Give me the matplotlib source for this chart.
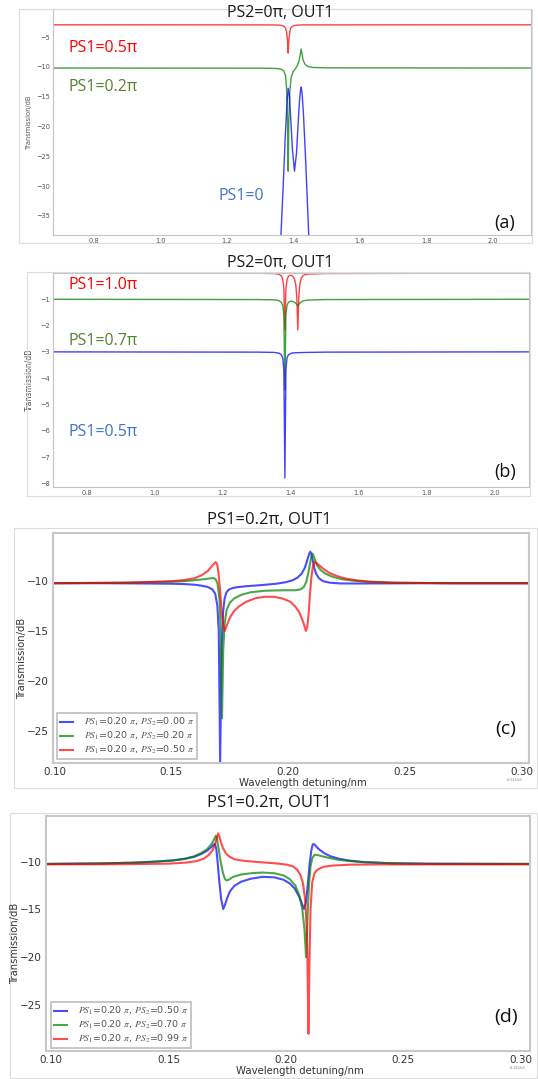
import matplotlib
matplotlib.use("Agg")
import matplotlib.pyplot as plt
from matplotlib.patches import Rectangle
from matplotlib.ticker import FormatStrFormatter

plt.rcParams["mathtext.fontset"] = "stix"

# ---------------- data ----------------
# (a) PS2 = 0, OUT1, coarse detuning axis
a_red_x = [0.68, 1.30, 1.35, 1.365, 1.372, 1.377, 1.380, 1.383, 1.385, 1.387, 1.390, 1.393, 1.398, 1.405, 1.42, 1.45, 2.12]
a_red_y = [-2.95, -2.96, -2.98, -3.05, -3.2, -3.5, -4.1, -5.5, -7.7, -5.5, -4.1, -3.5, -3.2, -3.05, -2.98, -2.96, -2.95]

a_green_x = [0.68, 1.30, 1.35, 1.365, 1.372, 1.377, 1.380, 1.383, 1.385, 1.387, 1.390, 1.394, 1.400, 1.407,
             1.413, 1.418, 1.421, 1.424, 1.427, 1.430, 1.436, 1.445, 1.46, 1.50, 2.12]
a_green_y = [-10.2, -10.22, -10.28, -10.4, -10.7, -11.5, -13.5, -19.0, -27.5, -19.0, -14.0, -11.8, -10.8, -10.3,
             -9.7, -8.9, -8.0, -7.0, -8.0, -8.9, -9.6, -9.95, -10.1, -10.17, -10.2]

a_blue_x = [0.68, 1.20, 1.30, 1.34, 1.355, 1.363, 1.370, 1.376, 1.381, 1.385, 1.389, 1.393, 1.398, 1.404,
            1.410, 1.415, 1.419, 1.422, 1.424, 1.427, 1.431, 1.437, 1.443, 1.447, 1.455, 1.48, 1.55, 1.70, 2.12]
a_blue_y = [-60, -58, -55, -50, -45, -38.5, -30, -22, -16.5, -13.6, -15, -19, -24, -27.5,
            -24.5, -19.5, -15.8, -14, -13.4, -14.5, -18, -25, -33, -38.5, -45, -52, -56, -58, -60]

# (b) PS2 = 0, OUT1, larger PS1
b_red_x = [0.70, 1.30, 1.35, 1.365, 1.372, 1.376, 1.379, 1.382, 1.385, 1.388, 1.392, 1.397, 1.401, 1.405,
           1.410, 1.414, 1.417, 1.420, 1.423, 1.426, 1.430, 1.437, 1.45, 1.50, 2.10]
b_red_y = [0.0, -0.01, -0.02, -0.05, -0.12, -0.25, -0.6, -2.17, -0.6, -0.27, -0.13, -0.09, -0.09, -0.12,
           -0.22, -0.45, -0.9, -2.17, -0.9, -0.45, -0.2, -0.08, -0.04, -0.02, 0.0]

b_green_x = [0.70, 1.30, 1.35, 1.365, 1.372, 1.376, 1.379, 1.382, 1.385, 1.388, 1.392, 1.398, 1.405, 1.412,
             1.416, 1.420, 1.424, 1.428, 1.435, 1.45, 1.50, 2.10]
b_green_y = [-1.0, -1.01, -1.02, -1.05, -1.12, -1.25, -1.6, -4.45, -1.6, -1.25, -1.12, -1.07, -1.08, -1.13,
             -1.18, -1.25, -1.18, -1.12, -1.06, -1.03, -1.01, -1.0]

b_blue_x = [0.70, 1.30, 1.35, 1.365, 1.372, 1.376, 1.379, 1.382, 1.385, 1.388, 1.392, 1.398, 1.405, 1.42, 1.45, 1.50, 2.10]
b_blue_y = [-3.0, -3.01, -3.02, -3.05, -3.12, -3.25, -3.7, -7.8, -3.7, -3.25, -3.12, -3.07, -3.04, -3.03, -3.02, -3.01, -3.0]

# (c) PS1 = 0.2 pi, PS2 = 0.00 / 0.20 / 0.50 pi
c_blue_x = [0.099, 0.12, 0.14, 0.15, 0.155, 0.160, 0.163, 0.1655, 0.1675, 0.1688, 0.1697, 0.1703, 0.1709,
            0.1715, 0.1722, 0.1728, 0.1735, 0.1745, 0.176, 0.178, 0.182, 0.188, 0.195, 0.199, 0.202, 0.204,
            0.2058, 0.2072, 0.2083, 0.2090, 0.2095, 0.2100, 0.2106, 0.2113, 0.2120, 0.2132, 0.215, 0.218,
            0.222, 0.230, 0.26, 0.304]
c_blue_y = [-10.25, -10.25, -10.28, -10.3, -10.33, -10.4, -10.5, -10.62, -10.85, -11.3, -12.5, -15.0, -28.0,
            -17.0, -13.0, -11.8, -11.2, -10.9, -10.75, -10.65, -10.55, -10.45, -10.3, -10.15, -9.95, -9.7,
            -9.3, -8.7, -7.9, -7.35, -7.1, -7.35, -8.0, -8.8, -9.3, -9.75, -10.05, -10.2,
            -10.27, -10.28, -10.25, -10.25]

c_green_x = [0.099, 0.13, 0.15, 0.155, 0.160, 0.164, 0.1665, 0.168, 0.1690, 0.1698, 0.1706, 0.1712, 0.1717,
             0.1722, 0.1728, 0.1737, 0.175, 0.177, 0.180, 0.184, 0.190, 0.198, 0.203, 0.2055, 0.2068, 0.2078,
             0.2086, 0.2094, 0.2100, 0.2104, 0.2109, 0.2116, 0.2125, 0.214, 0.216, 0.219, 0.223, 0.228,
             0.235, 0.245, 0.27, 0.304]
c_green_y = [-10.25, -10.2, -10.1, -10.05, -9.95, -9.85, -9.77, -9.73, -9.85, -10.3, -11.8, -15.5, -23.7,
             -17.0, -14.3, -12.9, -12.2, -11.75, -11.4, -11.15, -11.0, -10.95, -10.95, -10.85, -10.6, -10.1,
             -9.3, -8.3, -7.6, -7.3, -7.5, -8.0, -8.5, -8.95, -9.3, -9.6, -9.85, -10.0,
             -10.12, -10.2, -10.25, -10.25]

c_red_x = [0.099, 0.13, 0.15, 0.155, 0.160, 0.163, 0.1655, 0.1672, 0.1683, 0.1690, 0.1696, 0.1702, 0.1708,
           0.1714, 0.1721, 0.1728, 0.1737, 0.1745, 0.1755, 0.177, 0.179, 0.182, 0.186, 0.190, 0.194, 0.198,
           0.201, 0.203, 0.2047, 0.2060, 0.2070, 0.2076, 0.2082, 0.2088, 0.2094, 0.2100, 0.2106, 0.2112,
           0.2120, 0.2135, 0.215, 0.2175, 0.220, 0.2225, 0.225, 0.229, 0.234, 0.245, 0.27, 0.304]
c_red_y = [-10.25, -10.2, -10.05, -9.95, -9.75, -9.45, -9.05, -8.6, -8.3, -8.14, -8.35, -9.2, -10.8,
           -12.6, -14.2, -15.0, -14.5, -14.0, -13.5, -13.0, -12.55, -12.1, -11.75, -11.6, -11.6, -11.8,
           -12.1, -12.55, -13.1, -13.8, -14.5, -15.0, -14.6, -13.3, -11.3, -9.6, -8.6, -8.14,
           -8.2, -8.5, -8.8, -9.2, -9.45, -9.65, -9.8, -9.95, -10.08, -10.2, -10.25, -10.25]

# (d) PS1 = 0.2 pi, PS2 = 0.50 / 0.70 / 0.99 pi
d_blue_x = [0.097, 0.12, 0.135, 0.145, 0.152, 0.157, 0.161, 0.164, 0.1665, 0.1682, 0.1692, 0.1697, 0.1703,
            0.1709, 0.1716, 0.1724, 0.1733, 0.1741, 0.1750, 0.1762, 0.178, 0.181, 0.185, 0.190, 0.195, 0.199,
            0.2017, 0.2037, 0.2055, 0.2067, 0.2077, 0.2085, 0.2093, 0.2101, 0.2108, 0.2113, 0.2117, 0.2125,
            0.2140, 0.2165, 0.2190, 0.2225, 0.227, 0.233, 0.245, 0.26, 0.305]
d_blue_y = [-10.25, -10.2, -10.12, -10.0, -9.88, -9.72, -9.5, -9.2, -8.85, -8.5, -8.25, -8.16, -8.6,
            -10.0, -12.0, -13.9, -14.96, -14.5, -13.8, -13.1, -12.55, -12.1, -11.8, -11.6, -11.65, -11.9,
            -12.3, -12.8, -13.6, -14.3, -14.96, -14.3, -12.5, -10.3, -8.9, -8.3, -8.16, -8.3,
            -8.7, -9.15, -9.45, -9.7, -9.9, -10.05, -10.18, -10.23, -10.25]

d_green_x = [0.097, 0.12, 0.135, 0.145, 0.152, 0.157, 0.161, 0.164, 0.1665, 0.1685, 0.1695, 0.1701, 0.1706,
             0.1713, 0.1722, 0.1732, 0.1740, 0.1747, 0.1757, 0.1775, 0.181, 0.186, 0.190, 0.195, 0.199,
             0.2017, 0.2040, 0.2058, 0.2070, 0.2079, 0.2086, 0.2092, 0.2098, 0.2105, 0.2113, 0.2122, 0.2135,
             0.2150, 0.2180, 0.2220, 0.227, 0.233, 0.245, 0.26, 0.305]
d_green_y = [-10.25, -10.2, -10.12, -10.0, -9.88, -9.7, -9.45, -9.1, -8.7, -8.1, -7.65, -7.3, -7.6,
             -8.6, -10.0, -11.2, -11.8, -11.98, -11.9, -11.6, -11.35, -11.2, -11.15, -11.22, -11.45,
             -11.85, -12.5, -13.6, -15.0, -17.0, -20.0, -16.0, -12.5, -10.5, -9.6, -9.3, -9.32,
             -9.42, -9.6, -9.8, -9.95, -10.07, -10.18, -10.23, -10.25]

d_red_x = [0.097, 0.13, 0.15, 0.158, 0.162, 0.165, 0.1672, 0.1688, 0.1698, 0.1706, 0.1711, 0.1716, 0.1722,
           0.1732, 0.1745, 0.1760, 0.178, 0.182, 0.187, 0.192, 0.197, 0.2005, 0.203, 0.2048, 0.2062, 0.2073,
           0.2082, 0.2088, 0.2092, 0.2096, 0.2100, 0.2105, 0.2112, 0.2122, 0.2135, 0.216, 0.220, 0.227,
           0.24, 0.305]
d_red_y = [-10.3, -10.28, -10.22, -10.1, -9.95, -9.7, -9.3, -8.8, -8.2, -7.5, -7.05, -7.3, -7.9,
           -8.6, -9.15, -9.5, -9.75, -9.92, -10.03, -10.12, -10.22, -10.33, -10.5, -10.85, -11.4, -12.3,
           -14.0, -16.5, -20.5, -28.0, -21.0, -15.0, -12.2, -11.2, -10.85, -10.55, -10.42, -10.33,
           -10.3, -10.3]

legend_c = [r"$PS_1$=0.20 $\pi$, $PS_2$=0.00 $\pi$",
            r"$PS_1$=0.20 $\pi$, $PS_2$=0.20 $\pi$",
            r"$PS_1$=0.20 $\pi$, $PS_2$=0.50 $\pi$"]
legend_d = [r"$PS_1$=0.20 $\pi$, $PS_2$=0.50 $\pi$",
            r"$PS_1$=0.20 $\pi$, $PS_2$=0.70 $\pi$",
            r"$PS_1$=0.20 $\pi$, $PS_2$=0.99 $\pi$"]

# ---------------- figure ----------------
W, H = 538, 1079
fig = plt.figure(figsize=(W / 100, H / 100), dpi=100)
LABEL_FONT = ["Open Sans", "DejaVu Sans"]


def fx(px):
    return px / W


def fy(py):
    return 1 - py / H


def add_axes_px(left, top, right, bottom):
    return fig.add_axes([fx(left), fy(bottom), (right - left) / W, (bottom - top) / H])


def frame_px(left, top, right, bottom):
    fig.add_artist(Rectangle((fx(left), fy(bottom)), (right - left) / W, (bottom - top) / H,
                             transform=fig.transFigure, fill=False, ec="#dcdcdc", lw=0.8))


def ftext(px, py, s, **kw):
    fig.text(fx(px), fy(py), s, **kw)


def style_small(ax):
    for sp in ax.spines.values():
        sp.set_color("#c4c4c4")
        sp.set_linewidth(0.8)
    ax.tick_params(length=0, labelsize=4.8, colors="#555555", pad=2)


def style_large(ax):
    for sp in ax.spines.values():
        sp.set_color("#c8c8c8")
        sp.set_linewidth(1.5)
    ax.tick_params(length=0, labelsize=7.5, colors="#333333", pad=3)


# panel frames
frame_px(19, 9, 532, 243)
frame_px(27, 272, 530, 496)
frame_px(14, 528, 537, 788)
frame_px(10, 813, 537, 1078)

# ---- (a) ----
ax = add_axes_px(53, 9, 531, 235)
ax.plot(a_red_x, a_red_y, color="r", lw=1.0, alpha=0.75)
ax.plot(a_green_x, a_green_y, color="g", lw=1.0, alpha=0.75)
ax.plot(a_blue_x, a_blue_y, color="b", lw=1.0, alpha=0.75)
ax.set_xlim(0.678, 2.115)
ax.set_ylim(-38.2, -0.3)
ax.set_xticks([0.8, 1.0, 1.2, 1.4, 1.6, 1.8, 2.0])
ax.set_yticks([-5, -10, -15, -20, -25, -30, -35])
ax.xaxis.set_major_formatter(FormatStrFormatter("%.1f"))
style_small(ax)
ax.set_ylabel("Transmission/dB", fontsize=4.8, color="#555555", labelpad=3)

ftext(280, 13, "PS2=0π, OUT1", fontsize=11.5, family=LABEL_FONT, ha="center", va="center", color="#1a1a1a")
ftext(68, 48, "PS1=0.5π", fontsize=11.5, family=LABEL_FONT, va="center", color="#ff0000")
ftext(68, 87, "PS1=0.2π", fontsize=11.5, family=LABEL_FONT, va="center", color="#548235")
ftext(219, 196, "PS1=0", fontsize=11.5, family=LABEL_FONT, va="center", color="#4472c4")
ftext(505, 223, "(a)", fontsize=13, family=LABEL_FONT, ha="center", va="center", color="#111111")

# ---- (b) ----
ax = add_axes_px(53, 273, 529, 487)
ax.plot(b_red_x, b_red_y, color="r", lw=1.0, alpha=0.75)
ax.plot(b_green_x, b_green_y, color="g", lw=1.0, alpha=0.75)
ax.plot(b_blue_x, b_blue_y, color="b", lw=1.0, alpha=0.75)
ax.set_xlim(0.70, 2.10)
ax.set_ylim(-8.14, 0.0)
ax.set_xticks([0.8, 1.0, 1.2, 1.4, 1.6, 1.8, 2.0])
ax.set_yticks([-1, -2, -3, -4, -5, -6, -7, -8])
ax.xaxis.set_major_formatter(FormatStrFormatter("%.1f"))
style_small(ax)
ax.set_ylabel("Transmission/dB", fontsize=5.5, color="#555555", labelpad=5)

ftext(280, 263, "PS2=0π, OUT1", fontsize=11.5, family=LABEL_FONT, ha="center", va="center", color="#1a1a1a")
ftext(68, 285, "PS1=1.0π", fontsize=11.5, family=LABEL_FONT, va="center", color="#ff0000")
ftext(68, 341, "PS1=0.7π", fontsize=11.5, family=LABEL_FONT, va="center", color="#548235")
ftext(68, 432, "PS1=0.5π", fontsize=11.5, family=LABEL_FONT, va="center", color="#4472c4")
ftext(505, 472, "(b)", fontsize=13, family=LABEL_FONT, ha="center", va="center", color="#111111")


# ---- (c) and (d) ----
def detuning_panel(box, xlim, ylim, curves, labels, title_y, legend_box, tag, tag_xy, offs_xy, ylab_x, xlab_y):
    ax = add_axes_px(*box)
    handles = []
    for (xs, ys), col in zip(curves, ["b", "g", "r"]):
        h, = ax.plot(xs, ys, color=col, lw=1.5, alpha=0.7)
        handles.append(h)
    ax.set_xlim(*xlim)
    ax.set_ylim(*ylim)
    ax.set_xticks([0.10, 0.15, 0.20, 0.25, 0.30])
    ax.set_yticks([-10, -15, -20, -25])
    ax.xaxis.set_major_formatter(FormatStrFormatter("%.2f"))
    style_large(ax)
    left, top, right, bottom = box
    ftext(ylab_x, (top + bottom) / 2 + 10, "Transmission/dB", fontsize=7.2, rotation=90,
          ha="center", va="center", color="#333333")
    ftext((left + right) / 2 + 12, xlab_y, "Wavelength detuning/nm", fontsize=7.3,
          ha="center", va="center", color="#333333")
    ftext(269, title_y, "PS1=0.2π, OUT1", fontsize=12, family=LABEL_FONT, ha="center", va="center",
          color="#1a1a1a")
    ftext(tag_xy[0], tag_xy[1], tag, fontsize=14, family=LABEL_FONT, ha="center", va="center", color="#111111")
    ftext(offs_xy[0], offs_xy[1], "+1.5412e3", fontsize=2.2, ha="center", va="center", color="#777777")
    lx, ly = legend_box
    leg = ax.legend(handles, labels, loc="lower left", bbox_to_anchor=(fx(lx), fy(ly)),
                    bbox_transform=fig.transFigure, borderaxespad=0, fontsize=6.8,
                    handlelength=1.35, handletextpad=1.2, labelspacing=0.18, borderpad=0.3,
                    fancybox=False, framealpha=1.0)
    leg.get_frame().set_edgecolor("#bdbdbd")
    leg.get_frame().set_linewidth(1.2)
    for t in leg.get_texts():
        t.set_color("#555555")
    return ax


detuning_panel((53, 533, 529, 763),
               (0.0993, 0.3032), (-28.15, -5.25),
               [(c_blue_x, c_blue_y), (c_green_x, c_green_y), (c_red_x, c_red_y)],
               legend_c, 520, (57, 759), "(c)", (506, 729), (514, 780), 22, 783)

detuning_panel((46, 816, 530, 1051),
               (0.0978, 0.304), (-29.8, -5.24),
               [(d_blue_x, d_blue_y), (d_green_x, d_green_y), (d_red_x, d_red_y)],
               legend_d, 803, (51, 1048), "(d)", (506, 1017), (517, 1068), 15, 1071)

fig.savefig("out.png", dpi=100)
